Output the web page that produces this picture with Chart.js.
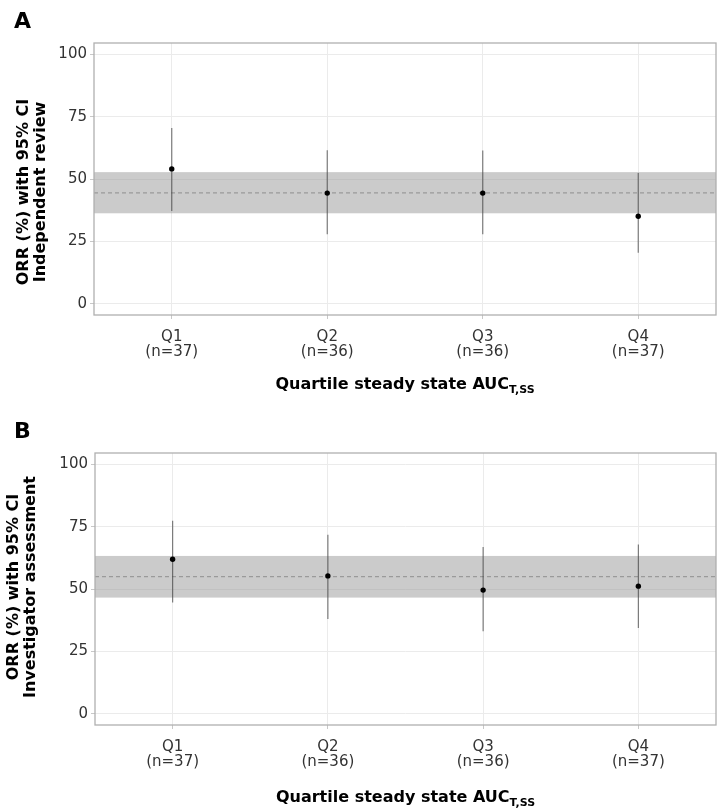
<!DOCTYPE html>
<html>
<head>
<meta charset="utf-8">
<script src="https://cdn.jsdelivr.net/npm/chart.js@4.4.1/dist/chart.umd.min.js"></script>
<style>
    body { margin: 0; background: #fff; }
    canvas { display: block; }
</style>
</head>
<body>
<canvas id="panel-a" width="720" height="410"></canvas>
<canvas id="panel-b" width="720" height="401"></canvas>
<script>
// ORR by quartile of steady-state exposure, with 95% CI.
// Grey band + dashed line = overall population ORR and its CI.

const QUARTILES = ["Q1", "Q2", "Q3", "Q4"];
const N_PER_QUARTILE = [37, 36, 36, 37];
const Y_TICKS = [0, 25, 50, 75, 100];

// Panel A: independent review
const orrIrc = [54.1, 44.4, 44.4, 35.1];
const ciLowIrc = [37.2, 27.9, 27.9, 20.5];
const ciHighIrc = [70.5, 61.6, 61.5, 52.5];
const overallIrc = 44.5;
const overallCiIrc = [36.3, 52.8];

// Panel B: investigator assessment
const orrInv = [62.0, 55.3, 49.6, 51.2];
const ciLowInv = [44.6, 38.0, 33.1, 34.4];
const ciHighInv = [77.4, 71.8, 66.9, 67.9];
const overallInv = 55.0;
const overallCiInv = [46.6, 63.3];

const FONT = "'DejaVu Sans', Verdana, sans-serif";

// Band, reference line and error bars go under the points but over the grid;
// border and titles go on top of everything.
const orrDecor = {
    id: "orrDecor",
    beforeDatasetsDraw(chart, args, opts) {
        const { ctx, chartArea: a, scales: { x, y } } = chart;
        ctx.save();
        const bTop = y.getPixelForValue(opts.band[1]);
        const bBot = y.getPixelForValue(opts.band[0]);
        ctx.fillStyle = "rgba(151, 151, 151, 0.5)";
        ctx.fillRect(a.left, bTop, a.right - a.left, bBot - bTop);

        const yo = y.getPixelForValue(opts.overall);
        ctx.strokeStyle = "#9a9a9a";
        ctx.lineWidth = 1.2;
        ctx.setLineDash([4, 3]);
        ctx.beginPath();
        ctx.moveTo(a.left, yo);
        ctx.lineTo(a.right, yo);
        ctx.stroke();
        ctx.setLineDash([]);

        ctx.strokeStyle = "rgba(60, 60, 60, 0.65)";
        ctx.lineWidth = 1.2;
        opts.lo.forEach((lo, i) => {
            const px = x.getPixelForValue(i + 1);
            ctx.beginPath();
            ctx.moveTo(px, y.getPixelForValue(lo));
            ctx.lineTo(px, y.getPixelForValue(opts.hi[i]));
            ctx.stroke();
        });
        ctx.restore();
    },
    afterDraw(chart, args, opts) {
        const { ctx, chartArea: a } = chart;
        ctx.save();
        ctx.strokeStyle = "#b0b0b0";
        ctx.lineWidth = 1.3;
        ctx.strokeRect(a.left, a.top, a.right - a.left, a.bottom - a.top);

        ctx.fillStyle = "#000";
        ctx.font = `bold 22px ${FONT}`;
        ctx.textAlign = "left";
        ctx.textBaseline = "alphabetic";
        ctx.fillText(opts.letter, 14, 27.5);

        // y title, two bold lines
        ctx.font = `bold 16px ${FONT}`;
        ctx.textAlign = "center";
        ctx.textBaseline = "middle";
        opts.yTitle.forEach((line, i) => {
            ctx.save();
            ctx.translate(opts.yTitleX[i], opts.yTitleY);
            ctx.rotate(-Math.PI / 2);
            ctx.fillText(line, 0, 0);
            ctx.restore();
        });

        // x title with subscript
        const main = "Quartile steady state AUC";
        const sub = "T,SS";
        ctx.textAlign = "left";
        ctx.textBaseline = "alphabetic";
        ctx.font = `bold 16px ${FONT}`;
        const wMain = ctx.measureText(main).width;
        ctx.font = `bold 11px ${FONT}`;
        const wSub = ctx.measureText(sub).width;
        const x0 = (a.left + a.right) / 2 - (wMain + wSub) / 2;
        ctx.font = `bold 16px ${FONT}`;
        ctx.fillText(main, x0, opts.xTitleBaseline);
        ctx.font = `bold 11px ${FONT}`;
        ctx.fillText(sub, x0 + wMain, opts.xTitleBaseline + 4);
        ctx.restore();
    },
};

function renderPanel(canvasId, cfg) {
    const canvas = document.getElementById(canvasId);
    const grid = { color: "#ebebeb", lineWidth: 1, tickColor: "#c8c8c8", tickLength: 4 };
    new Chart(canvas, {
        type: "scatter",
        data: {
            datasets: [{
                data: cfg.orr.map((v, i) => ({ x: i + 1, y: v })),
                backgroundColor: "#000",
                borderWidth: 0,
                pointRadius: 2.7,
            }],
        },
        options: {
            responsive: false,
            animation: false,
            layout: { padding: { top: cfg.padTop, right: cfg.padRight, left: 0, bottom: 0 } },
            plugins: {
                legend: { display: false },
                tooltip: { enabled: false },
                orrDecor: {
                    letter: cfg.letter,
                    band: cfg.band,
                    overall: cfg.overall,
                    lo: cfg.lo,
                    hi: cfg.hi,
                    yTitle: ["ORR (%) with 95% CI", cfg.yTitle2],
                    yTitleX: cfg.yTitleX,
                    yTitleY: cfg.yTitleY,
                    xTitleBaseline: cfg.xTitleBaseline,
                },
            },
            scales: {
                x: {
                    type: "linear",
                    min: 0.5,
                    max: 4.5,
                    afterBuildTicks: s => { s.ticks = QUARTILES.map((_, i) => ({ value: i + 1 })); },
                    afterFit: s => { s.height = cfg.xAxisHeight; },
                    ticks: {
                        callback: v => [QUARTILES[v - 1], `(n=${N_PER_QUARTILE[v - 1]})`],
                        color: "#333",
                        font: { family: FONT, size: 15, lineHeight: 1.0 },
                        padding: 11,
                        maxRotation: 0,
                        autoSkip: false,
                    },
                    grid: grid,
                    border: { display: false },
                },
                y: {
                    min: -4.5,
                    max: 104.6,
                    afterBuildTicks: s => { s.ticks = Y_TICKS.map(v => ({ value: v })); },
                    afterFit: s => { s.width = cfg.yAxisWidth; },
                    ticks: {
                        color: "#333",
                        font: { family: FONT, size: 15 },
                        padding: 3,
                    },
                    grid: grid,
                    border: { display: false },
                },
            },
        },
        plugins: [orrDecor],
    });
}

renderPanel("panel-a", {
    letter: "A",
    orr: orrIrc, lo: ciLowIrc, hi: ciHighIrc,
    overall: overallIrc, band: overallCiIrc,
    yTitle2: "Independent review",
    yTitleX: [24, 41], yTitleY: 192,
    xTitleBaseline: 389,
    padTop: 43, padRight: 3, yAxisWidth: 94, xAxisHeight: 95,
});

renderPanel("panel-b", {
    letter: "B",
    orr: orrInv, lo: ciLowInv, hi: ciHighInv,
    overall: overallInv, band: overallCiInv,
    yTitle2: "Investigator assessment",
    yTitleX: [14, 31], yTitleY: 177,
    xTitleBaseline: 392,
    padTop: 43, padRight: 2, yAxisWidth: 95, xAxisHeight: 86,
});
</script>
</body>
</html>
